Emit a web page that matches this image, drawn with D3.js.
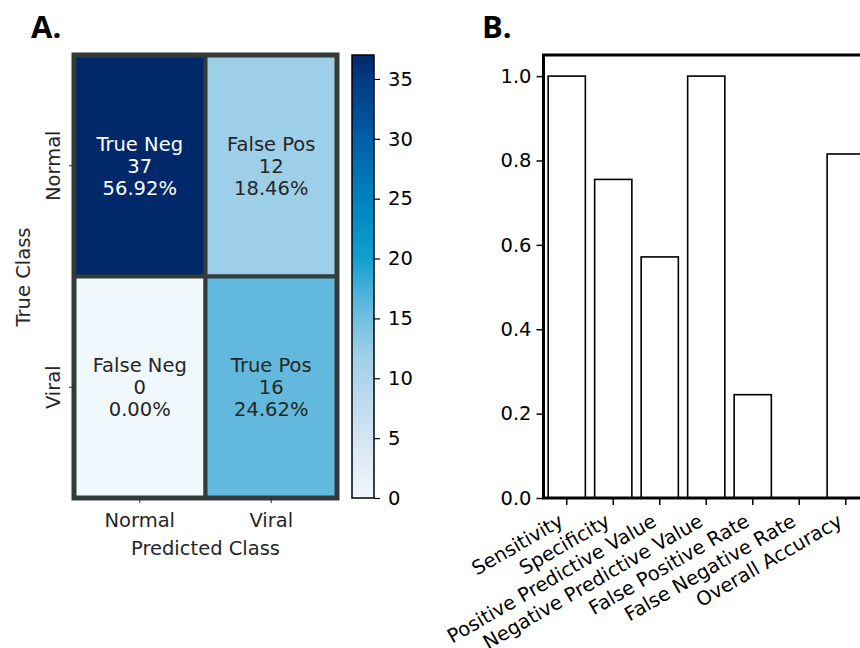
<!DOCTYPE html>
<html>
<head>
<meta charset="utf-8">
<script src="https://cdn.jsdelivr.net/npm/d3@7"></script>
<style>
  html, body { margin: 0; padding: 0; background: #fff; }
  svg { display: block; }
  text { font-family: "DejaVu Sans", sans-serif; }
</style>
</head>
<body>
<svg id="chart" width="860" height="648"></svg>
<script>
// Confusion matrix data
const classes = ["Normal", "Viral"];
const cellNames = [["True Neg", "False Pos"], ["False Neg", "True Pos"]];
const cellCounts = [[37, 12], [0, 16]];
const colorbarTicks = [0, 5, 10, 15, 20, 25, 30, 35];

// Summary metrics
const metrics = ["Sensitivity", "Specificity", "Positive Predictive Value",
  "Negative Predictive Value", "False Positive Rate", "False Negative Rate", "Overall Accuracy"];
const metricValues = [1.0, 0.7551, 0.5714, 1.0, 0.2449, 0.0, 0.8154];
const metricTicks = [0.0, 0.2, 0.4, 0.6, 0.8, 1.0];

const svg = d3.select("#chart");
const FS = 19.5;

// ---------- Panel A: heatmap ----------
const total = d3.sum(cellCounts.flat());
const maxCount = d3.max(cellCounts.flat());
const stops = [
  [0, "#f0f7fd"], [5, "#d3e5f4"], [10, "#afd5eb"], [12, "#9dcfe8"],
  [16, "#62b9dd"], [20, "#10a0d0"], [25, "#0082bf"], [30, "#005ea8"],
  [35, "#003a80"], [37, "#00286a"]
];
const color = d3.scaleLinear()
  .domain(stops.map(s => s[0]))
  .range(stops.map(s => s[1]))
  .interpolate(d3.interpolateRgb)
  .clamp(true);

const hx = d3.scaleBand().domain(classes).range([74, 337]);
const hy = d3.scaleBand().domain(classes).range([55, 498]);

const gA = svg.append("g");
const cells = [];
classes.forEach((t, i) => classes.forEach((p, j) => cells.push({ t, p, i, j })));

gA.selectAll("rect.cell").data(cells).join("rect")
  .attr("class", "cell")
  .attr("x", d => hx(d.p)).attr("y", d => hy(d.t))
  .attr("width", hx.bandwidth()).attr("height", hy.bandwidth())
  .attr("fill", d => color(cellCounts[d.i][d.j]))
  .attr("stroke", "#323a3a").attr("stroke-width", 4);

gA.append("rect")
  .attr("x", 74).attr("y", 55).attr("width", 263).attr("height", 443)
  .attr("fill", "none").attr("stroke", "#323a3a").attr("stroke-width", 5);

const labels = gA.selectAll("text.cell").data(cells).join("text")
  .attr("class", "cell")
  .attr("text-anchor", "middle")
  .attr("font-size", FS)
  .attr("fill", d => cellCounts[d.i][d.j] > maxCount * 0.6 ? "#ffffff" : "#262626");
labels.each(function (d) {
  const v = cellCounts[d.i][d.j];
  const lines = [cellNames[d.i][d.j], String(v), (v / total * 100).toFixed(2) + "%"];
  const cx = hx(d.p) + hx.bandwidth() / 2;
  const cy = hy(d.t) + hy.bandwidth() / 2;
  d3.select(this).selectAll("tspan").data(lines).join("tspan")
    .attr("x", cx)
    .attr("y", (l, k) => cy + (k - 1) * 22 + 7)
    .text(l => l);
});

// heatmap axes
const axB = gA.append("g").attr("transform", "translate(0,498)")
  .call(d3.axisBottom(hx).tickSize(5).tickPadding(10));
axB.select(".domain").remove();
axB.selectAll("text").attr("font-size", FS).attr("fill", "#262626")
  .style("font-family", "DejaVu Sans");
axB.selectAll("line").attr("stroke", "#262626");

const axL = gA.append("g").attr("transform", "translate(74,0)")
  .call(d3.axisLeft(hy).tickSize(5).tickPadding(6));
axL.select(".domain").remove();
axL.selectAll("line").attr("stroke", "#262626");
axL.selectAll("text").attr("font-size", FS).attr("fill", "#262626")
  .style("font-family", "DejaVu Sans")
  .attr("text-anchor", "middle")
  .attr("x", null).attr("dy", null)
  .attr("transform", "translate(-14,0) rotate(-90)");

gA.append("text").attr("x", 205.5).attr("y", 555).attr("text-anchor", "middle")
  .attr("font-size", FS).attr("fill", "#262626").text("Predicted Class");
gA.append("text").attr("transform", "translate(30,277) rotate(-90)")
  .attr("text-anchor", "middle").attr("font-size", FS).attr("fill", "#262626")
  .text("True Class");

// colorbar
const cb = d3.scaleLinear().domain([0, maxCount]).range([498, 55]);
const defs = svg.append("defs");
const grad = defs.append("linearGradient").attr("id", "cbgrad")
  .attr("x1", 0).attr("y1", 1).attr("x2", 0).attr("y2", 0);
d3.range(0, 1.0001, 0.02).forEach(t => {
  grad.append("stop").attr("offset", t).attr("stop-color", color(t * maxCount));
});
svg.append("rect").attr("x", 352).attr("y", 55).attr("width", 22).attr("height", 443)
  .attr("fill", "url(#cbgrad)").attr("stroke", "#000").attr("stroke-width", 1.5);
const cbAxis = svg.append("g").attr("transform", "translate(374,0)")
  .call(d3.axisRight(cb).tickValues(colorbarTicks).tickSize(6).tickPadding(8).tickFormat(d3.format("d")));
cbAxis.select(".domain").remove();
cbAxis.selectAll("line").attr("stroke", "#000").attr("stroke-width", 1.2);
cbAxis.selectAll("text").attr("font-size", FS).attr("fill", "#000")
  .style("font-family", "DejaVu Sans");

svg.append("text").attr("x", 31).attr("y", 38).attr("font-size", 31)
  .attr("font-weight", "bold").style("font-family", "Open Sans").text("A.");

// ---------- Panel B: bar chart ----------
const bx = d3.scaleBand().domain(metrics).range([543.5, 869]).paddingInner(0.2).paddingOuter(0.1);
const by = d3.scaleLinear().domain([0, 1.05]).range([498, 55]);

const gB = svg.append("g");
gB.selectAll("rect.bar").data(metrics).join("rect")
  .attr("class", "bar")
  .attr("x", d => bx(d)).attr("width", bx.bandwidth())
  .attr("y", (d, i) => by(metricValues[i]))
  .attr("height", (d, i) => by(0) - by(metricValues[i]))
  .attr("fill", "#fff").attr("stroke", "#000").attr("stroke-width", 1.6);

// frame
gB.append("rect").attr("x", 543.5).attr("y", 55).attr("width", 325.5).attr("height", 443)
  .attr("fill", "none").attr("stroke", "#000").attr("stroke-width", 3);

const yAx = gB.append("g").attr("transform", "translate(543.5,0)")
  .call(d3.axisLeft(by).tickValues(metricTicks).tickSize(7).tickPadding(5).tickFormat(d3.format(".1f")));
yAx.select(".domain").remove();
yAx.selectAll("line").attr("stroke", "#000").attr("stroke-width", 1.5);
yAx.selectAll("text").attr("font-size", FS).attr("fill", "#000")
  .style("font-family", "DejaVu Sans");

const xAx = gB.append("g").attr("transform", "translate(0,498)")
  .call(d3.axisBottom(bx).tickSize(7).tickPadding(0));
xAx.select(".domain").remove();
xAx.selectAll("line").attr("stroke", "#000").attr("stroke-width", 1.5);
xAx.selectAll("text").attr("font-size", FS).attr("fill", "#000")
  .style("font-family", "DejaVu Sans")
  .attr("text-anchor", "end")
  .attr("y", null).attr("dy", null)
  .attr("transform", "translate(-2,27) rotate(-30)");

svg.append("text").attr("x", 482).attr("y", 38).attr("font-size", 31)
  .attr("font-weight", "bold").style("font-family", "Open Sans").text("B.");
</script>
</body>
</html>
